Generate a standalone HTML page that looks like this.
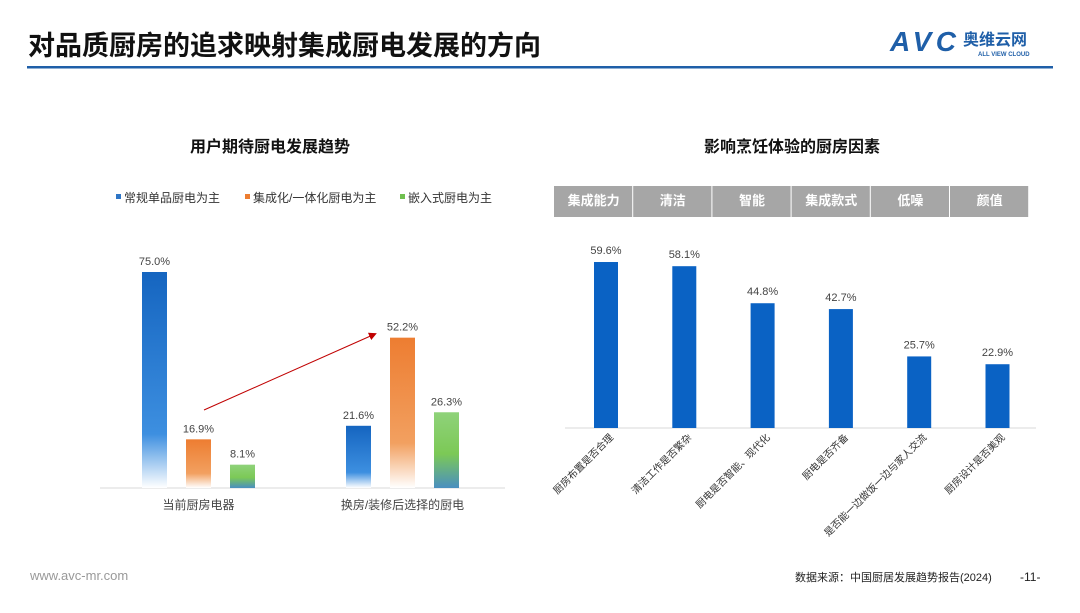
<!DOCTYPE html>
<html><head><meta charset="utf-8">
<style>
body{margin:0;width:1080px;height:608px;background:#fff;overflow:hidden;font-family:"Liberation Sans","Noto Sans CJK SC",sans-serif;}
svg text{font-family:"Liberation Sans","Noto Sans CJK SC",sans-serif;}
</style></head><body>
<svg id="s" width="1080" height="608" viewBox="0 0 1080 608">
<defs>
<linearGradient id="gb" x1="0" y1="0" x2="0" y2="1"><stop offset="0" stop-color="#1565c0"/><stop offset="0.75" stop-color="#3d8fe0"/><stop offset="1" stop-color="#ffffff"/></linearGradient>
<linearGradient id="go" x1="0" y1="0" x2="0" y2="1"><stop offset="0" stop-color="#ed7d31"/><stop offset="0.7" stop-color="#f2a060"/><stop offset="1" stop-color="#ffffff"/></linearGradient>
<linearGradient id="gg" x1="0" y1="0" x2="0" y2="1"><stop offset="0" stop-color="#8fd27a"/><stop offset="0.55" stop-color="#7cc956"/><stop offset="1" stop-color="#4a8fc0"/></linearGradient>
<marker id="ar" markerWidth="8" markerHeight="8" refX="6" refY="4" orient="auto"><path d="M0,0 L8,4 L0,8 z" fill="#c00000"/></marker>
</defs>
<text x="28" y="55" font-size="27" font-weight="bold" fill="#111">对品质厨房的追求映射集成厨电发展的方向</text>
<rect x="27" y="66" width="1026" height="2.5" fill="#1f5fa8"/>
<g>
<text x="890" y="51" font-size="28" font-weight="bold" font-style="italic" fill="#1f5fa8" textLength="66">AVC</text>
<text x="963" y="45" font-size="16" font-weight="bold" fill="#1f5fa8">奥维云网</text>
<text x="978" y="56" font-size="6" font-weight="bold" fill="#1f5fa8">ALL VIEW CLOUD</text>
</g>
<text x="270" y="152" font-size="16" font-weight="bold" fill="#111" text-anchor="middle">用户期待厨电发展趋势</text>
<text x="792" y="152" font-size="16" font-weight="bold" fill="#111" text-anchor="middle">影响烹饪体验的厨房因素</text>
<g id="left"></g>
<g id="right"></g>
<text x="30" y="580" font-size="13" fill="#999">www.avc-mr.com</text>
<text x="795" y="581" font-size="11" fill="#222">数据来源：中国厨居发展趋势报告(2024)</text>
<text x="1020" y="581" font-size="12" fill="#222">-11-</text>
</svg>
<script>
const NS="http://www.w3.org/2000/svg";
const leftGroups=["当前厨房电器","换房/装修后选择的厨电"];
const leftSeries=["常规单品厨电为主","集成化/一体化厨电为主","嵌入式厨电为主"];
const leftCurrent=[75.0,16.9,8.1];
const leftAfter=[21.6,52.2,26.3];
const rightCats=["厨房布置是否合理","清洁工作是否繁杂","厨电是否智能、现代化","厨电是否齐备","是否能一边做饭一边与家人交流","厨房设计是否美观"];
const rightVals=[59.6,58.1,44.8,42.7,25.7,22.9];
const rightHeaders=["集成能力","清洁","智能","集成款式","低噪","颜值"];

function mk(tag,attrs,parent,txt){const e=document.createElementNS(NS,tag);for(const k in attrs)e.setAttribute(k,attrs[k]);if(txt!==undefined)e.textContent=txt;parent.appendChild(e);return e;}
const L=document.getElementById('left'),R=document.getElementById('right');
const lBase=488,lScale=2.88;
const ly=v=>lBase-v*lScale;
const groupX=[142,346],barOff=[0,44,88],bw=25;
const fills=["url(#gb)","url(#go)","url(#gg)"],legC=["#2e75c6","#ed7d31","#70c050"];
const legX=[116,245,400];
leftSeries.forEach((n,i)=>{
 const r=mk('rect',{x:legX[i],y:194,width:5,height:5,fill:legC[i]},L);
 
 
 const t=mk('text',{x:legX[i]+8,y:202,'font-size':12,fill:'#333'},L,n);
 
 
});
mk('line',{x1:100,y1:lBase,x2:505,y2:lBase,stroke:'#d9d9d9','stroke-width':1},L);
[leftCurrent,leftAfter].forEach((arr,g)=>{
 arr.forEach((v,i)=>{
  const x=groupX[g]+barOff[i];
  const r=mk('rect',{x:x,y:ly(v),width:bw,height:v*lScale,fill:fills[i]},L);
  
  
  const t=mk('text',{x:x+bw/2,y:ly(v)-7,'font-size':11,fill:'#444','text-anchor':'middle'},L,v.toFixed(1)+'%');
  
  
 });
 const t=mk('text',{x:groupX[g]+bw/2+44,y:509,'font-size':12,fill:'#444','text-anchor':'middle'},L,leftGroups[g]);
 
 
});
const arrow=mk('line',{x1:204,y1:410,x2:375,y2:334,stroke:'#c00000','stroke-width':1,'marker-end':'url(#ar)'},L);


const hx=554,hw=79.2;
rightHeaders.forEach((h,i)=>{
 const r=mk('rect',{x:hx+i*hw,y:186,width:hw-1,height:31,fill:'#a6a6a6'},R);
 
 
 const t=mk('text',{x:hx+i*hw+hw/2,y:205,'font-size':13,'font-weight':'bold',fill:'#fff','text-anchor':'middle'},R,h);
 
 
});
const rBase=428,rScale=2.785;
const ry=v=>rBase-v*rScale;
const rx=i=>594+i*78.3;
mk('line',{x1:565,y1:rBase,x2:1036,y2:rBase,stroke:'#d9d9d9','stroke-width':1},R);
rightVals.forEach((v,i)=>{
 const r=mk('rect',{x:rx(i),y:ry(v),width:24,height:v*rScale,fill:'#0a62c4'},R);
 
 
 const t=mk('text',{x:rx(i)+12,y:ry(v)-8,'font-size':11,fill:'#444','text-anchor':'middle'},R,v.toFixed(1)+'%');
 
 
 const cx=rx(i)+20,cy=rBase+10;
 const c=mk('text',{x:cx,y:cy,'font-size':10,fill:'#333','text-anchor':'end',transform:'rotate(-45 '+cx+' '+cy+')'},R,rightCats[i]);
 
 
});
</script>
</body></html>
